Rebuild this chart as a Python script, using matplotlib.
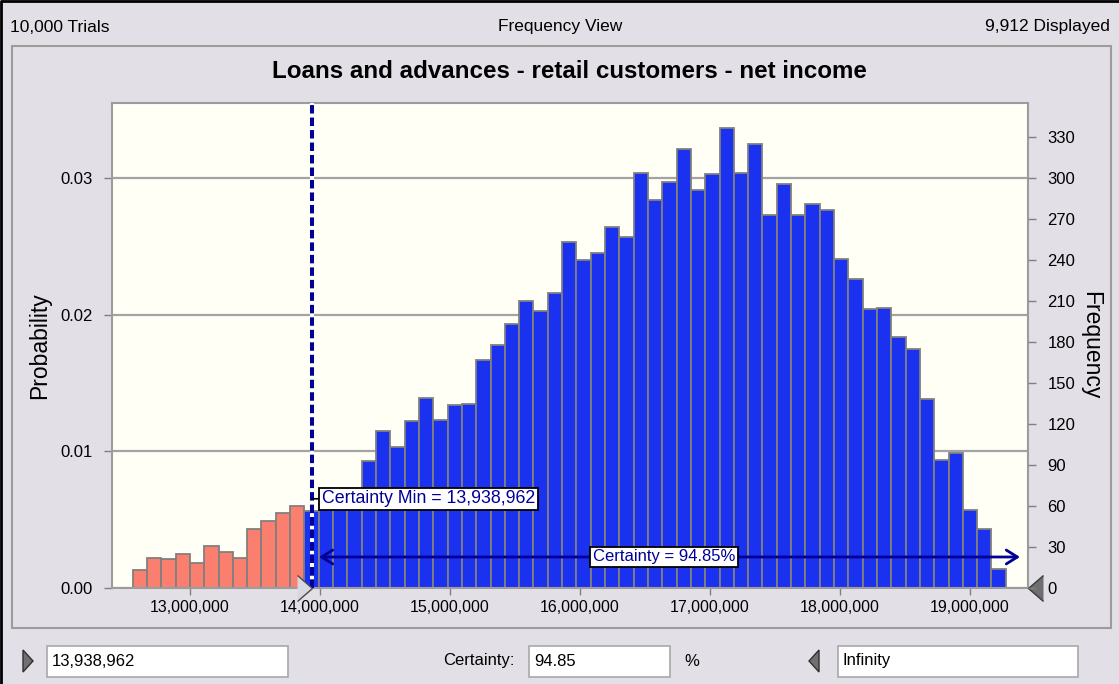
import matplotlib
matplotlib.use("Agg")
import matplotlib.pyplot as plt
from matplotlib.patches import Rectangle, Polygon
from matplotlib.lines import Line2D

# ---------------- data ----------------
trials = 10000
displayed = 9912
bin_start = 12_559_000
bin_width = 110_100
n_below_min = 12          # bins entirely left of certainty min (drawn red)
frequencies = [13, 22, 21, 25, 18, 31, 26, 22, 43, 49, 55, 60,
               56, 62, 66, 71, 93, 115, 103, 122, 139, 123, 134, 135, 167,
               178, 193, 210, 203, 216, 253, 240, 245, 264, 257, 304, 284, 297,
               321, 291, 303, 337, 304, 325, 273, 296, 273, 281, 277, 241, 226,
               204, 205, 184, 175, 138, 94, 99, 57, 43, 14]
certainty_min = 13_938_962
certainty_pct = 94.85
x_ticks = [13_000_000, 14_000_000, 15_000_000, 16_000_000, 17_000_000, 18_000_000, 19_000_000]
x_tick_labels = ["13,000,000", "14,000,000", "15,000,000", "16,000,000",
                 "17,000,000", "18,000,000", "19,000,000"]
prob_ticks = [0.00, 0.01, 0.02, 0.03]
prob_tick_labels = ["0.00", "0.01", "0.02", "0.03"]
freq_ticks = [0, 30, 60, 90, 120, 150, 180, 210, 240, 270, 300, 330]
x_range = (12_400_000, 19_446_000)
freq_top = 355
title = "Loans and advances - retail customers - net income"

# ---------------- style ----------------
BG = "#E3DFE6"
PLOT_BG = "#FFFFF6"
BLUE = "#1A32F0"
RED = "#FA7F6F"
EDGE = "#808080"
NAVY = "#000096"
GRID = "#A3A3A3"
FONT = ["Liberation Sans", "DejaVu Sans"]
plt.rcParams["font.family"] = FONT

W, H = 1119, 684
fig = plt.figure(figsize=(W / 100, H / 100), dpi=100)
fig.patch.set_facecolor(BG)


def fx(x):
    return x / W


def fy(y):
    return 1 - y / H


# outer dark edge (left and top) + panel
fig.lines.append(Line2D([fx(1), fx(1), fx(1119)], [fy(684), fy(1), fy(1)],
                        transform=fig.transFigure, color="black", lw=2))
fig.patches.append(Rectangle((fx(12), fy(628)), fx(1111) - fx(12), fy(46) - fy(628),
                             transform=fig.transFigure, fill=False, ec="#9C9C9C", lw=1.5))

# header texts
fig.text(fx(10), fy(27), f"{trials:,} Trials", ha="left", va="center", fontsize=12.5)
fig.text(fx(560), fy(27), "Frequency View", ha="center", va="center", fontsize=12.5)
fig.text(fx(1110), fy(27), f"{displayed:,} Displayed", ha="right", va="center", fontsize=12.5)
fig.text(fx(569), fy(72), title, ha="center", va="center", fontsize=17.4, fontweight="bold")

# ---------------- main axes ----------------
ax = fig.add_axes([fx(112), fy(588), fx(1028) - fx(112), fy(103) - fy(588)])
ax.set_facecolor(PLOT_BG)

lefts = [bin_start + i * bin_width for i in range(len(frequencies))]
probs = [f / trials for f in frequencies]
colors = [RED if i < n_below_min else BLUE for i in range(len(frequencies))]
ax.bar(lefts, probs, width=bin_width, align="edge", color=colors, edgecolor=EDGE,
       linewidth=1.3, zorder=2)

ax.set_xlim(*x_range)
ax.set_ylim(0, freq_top / trials)
ax.set_xticks(x_ticks)
ax.set_xticklabels(x_tick_labels)
ax.set_yticks(prob_ticks)
ax.set_yticklabels(prob_tick_labels)
ax.yaxis.grid(True, color=GRID, lw=1.6)
ax.set_axisbelow(True)
for s in ax.spines.values():
    s.set_color("#9C9C9C")
    s.set_linewidth(1.5)
ax.tick_params(axis="y", direction="out", length=6, width=1, color="#808080",
               labelsize=12, pad=8)
ax.tick_params(axis="x", direction="out", length=5, width=1, color="#808080",
               labelsize=11.5, pad=4)
ax.set_ylabel("Probability", fontsize=16.5)
ax.yaxis.set_label_coords(-0.066, 0.5)

ax2 = ax.twinx()
ax2.set_ylim(0, freq_top)
ax2.set_yticks(freq_ticks)
for s in ax2.spines.values():
    s.set_visible(False)
ax2.tick_params(axis="y", direction="out", length=6, width=1, color="#808080",
                labelsize=12, pad=8)
ax2.set_ylabel("Frequency", fontsize=16.5, rotation=270, va="center")
ax2.yaxis.set_label_coords(1.068, 0.5)

# certainty min line
ax.axvline(certainty_min, color=NAVY, lw=2.9, ls=(0, (2.1, 1.0)), gapcolor="white", zorder=4)

y_min_label = 0.00653
ax.annotate(f"Certainty Min = {certainty_min:,}", xy=(certainty_min, y_min_label),
            xytext=(10, 0), textcoords="offset pixels", ha="left", va="center",
            fontsize=12.8, color=NAVY, zorder=6,
            bbox=dict(boxstyle="square,pad=0.15", fc="white", ec="black", lw=1.3),
            arrowprops=dict(arrowstyle="-", color="black", lw=1.2, shrinkA=0, shrinkB=0))

# certainty range arrow
y_arrow = 0.00227
ax.annotate("", xy=(1 - 8 / 916, y_arrow), xycoords=ax.get_yaxis_transform(),
            xytext=(certainty_min, y_arrow), textcoords="data",
            arrowprops=dict(arrowstyle="<->,head_length=0.8,head_width=0.5", color=NAVY,
                            lw=2, shrinkA=5, shrinkB=0), zorder=5)
mid_x = (certainty_min + x_range[1]) / 2
ax.annotate(f"Certainty = {certainty_pct:.2f}%", xy=(mid_x, y_arrow), xytext=(-6, 0),
            textcoords="offset pixels", ha="center", va="center",
            fontsize=12, color=NAVY, zorder=6,
            bbox=dict(boxstyle="square,pad=0.15", fc="white", ec="black", lw=1.3))

# slider triangles on the axis
ax.plot([certainty_min], [0], marker=[(-15, 13), (0, 0), (-15, -13)], ms=21.6,
        mfc="#D8D8E2", mec="#4A4A4A", mew=1, clip_on=False, zorder=8)
ax.plot([1], [0], marker=[(15, 13), (0, 0), (15, -13)], ms=21.6, transform=ax.transAxes,
        mfc="#6E6E6E", mec="#3A3A3A", mew=1, clip_on=False, zorder=8)

# ---------------- bottom controls ----------------
def box(x0, x1, text):
    fig.patches.append(Rectangle((fx(x0), fy(677)), fx(x1) - fx(x0), fy(646) - fy(677),
                                 transform=fig.transFigure, fc="white", ec="#A8A8A8", lw=1.2))
    fig.text(fx(x0 + 5), fy(661), text, ha="left", va="center", fontsize=12)


def tri(pts, fc):
    fig.patches.append(Polygon([(fx(a), fy(b)) for a, b in pts], closed=True,
                               transform=fig.transFigure, fc=fc, ec="#303030", lw=1))


tri([(23, 650), (33, 661), (23, 672)], "#707070")
box(47, 288, f"{certainty_min:,}")
fig.text(fx(515), fy(661), "Certainty:", ha="right", va="center", fontsize=12)
box(529, 670, f"{certainty_pct:.2f}")
fig.text(fx(684), fy(661), "%", ha="left", va="center", fontsize=12)
tri([(819, 650), (809, 661), (819, 672)], "#707070")
box(838, 1078, "Infinity")

fig.savefig("out.png", dpi=100, facecolor=BG)
